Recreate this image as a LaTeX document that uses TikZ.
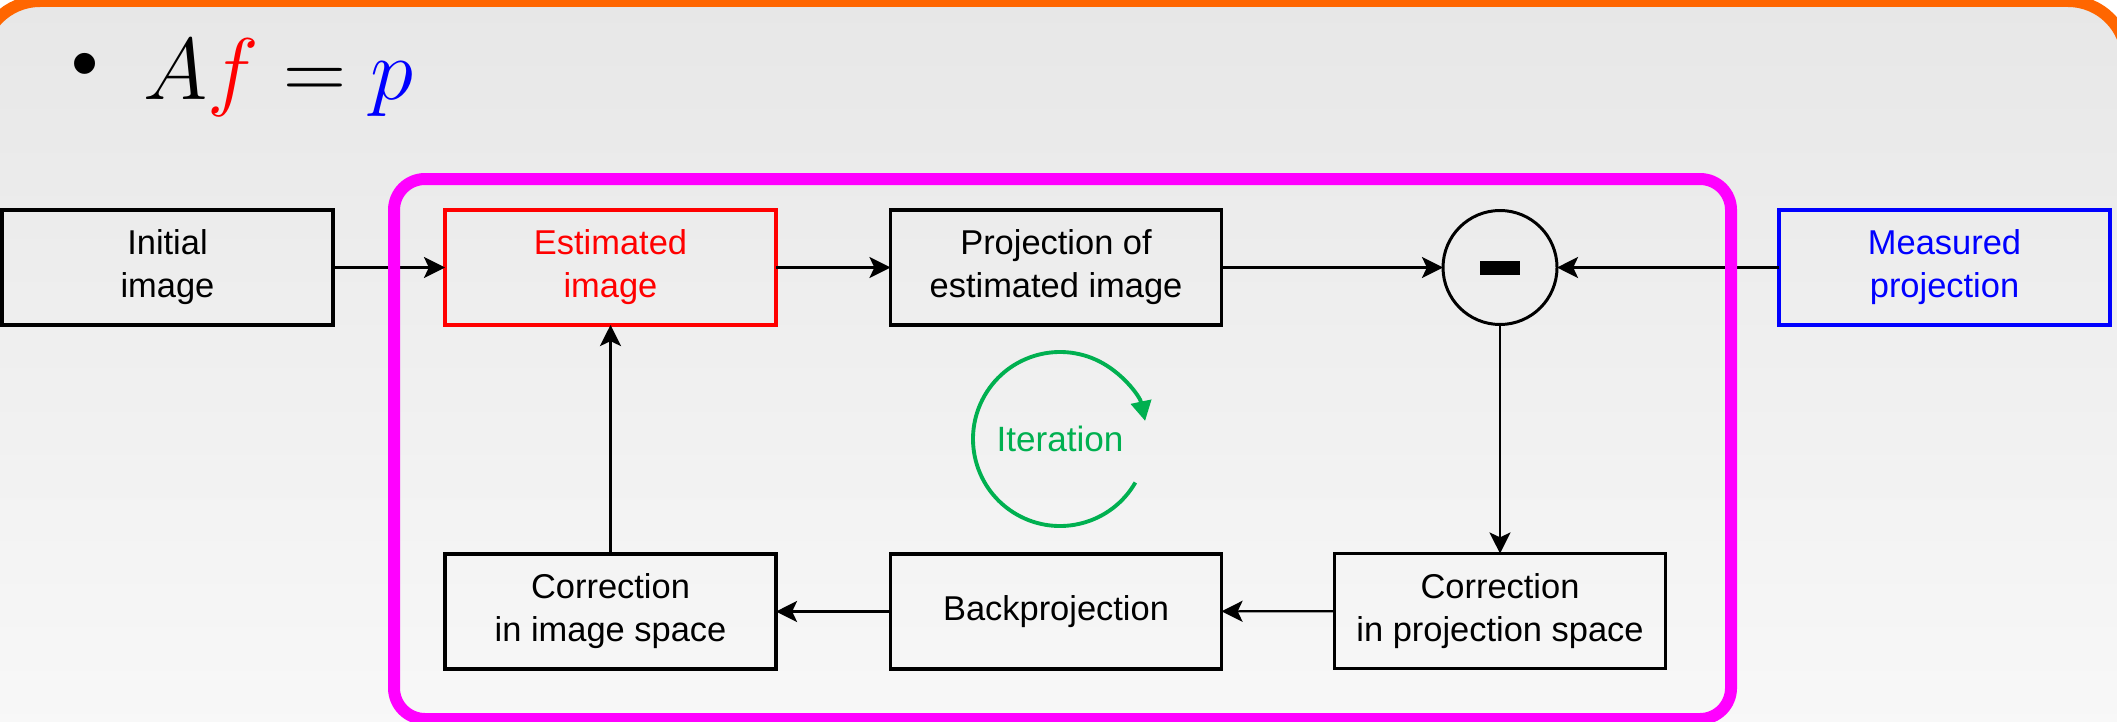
\documentclass[tikz,border=0pt]{standalone}
\usepackage[no-math]{fontspec}
\setmainfont{Liberation Sans}
\usetikzlibrary{positioning,arrows.meta}
\definecolor{framemag}{RGB}{255,0,255}
\definecolor{frameorange}{RGB}{255,102,0}
\definecolor{itergreen}{RGB}{0,176,80}
\definecolor{bgtop}{RGB}{231,231,231}
\definecolor{bgbottom}{RGB}{250,250,250}
\begin{document}
\begin{tikzpicture}[node distance=1.12cm,
  block/.style={draw,line width=0.95pt,minimum width=3.31cm,minimum height=1.15cm,inner sep=0pt,outer sep=0pt,align=center,font=\fontsize{9.8}{12.2}\selectfont},
  flow/.style={-{Stealth[length=6pt,width=6pt,inset=1.4pt]},line width=0.6pt}]
\useasboundingbox (0,0) rectangle (21.17,7.21);
\clip (0,0) rectangle (21.17,7.21);
\fill[white] (0,0) rectangle (21.17,7.21);
\shade[top color=bgtop,bottom color=bgbottom,rounded corners=0.59cm] (-0.19,-1) rectangle (21.27,7.20);
\draw[frameorange,line width=0.12cm,rounded corners=0.59cm] (-0.19,-1) rectangle (21.27,7.20);
\node(bullet) at (0.85,6.50) {\fontsize{22}{26}\selectfont\textbullet};
\node(equation)[anchor=base west,inner sep=0pt] at (1.43,6.21) {\fontsize{23.5}{28}\selectfont $A\textcolor{red}{f}=\textcolor{blue}{p}$};
\node(initial-img)[block] at (1.675,4.535) {Initial\\image};
\node(estimated-img)[block,red,right=of initial-img] {Estimated\\image};
\node(projection)[block,right=1.145cm of estimated-img] {Projection of\\estimated image};
\node(diff)[circle,draw,line width=0.85pt,minimum size=1.14cm,inner sep=0pt,outer sep=0pt,right=2.215cm of projection,
  path picture={\fill (-0.2,-0.07) rectangle (0.2,0.07);}] {};
\node(measured)[block,blue,right=2.22cm of diff] {Measured\\projection};
\node(corr-image)[block,below=2.29cm of estimated-img] {Correction\\in image space};
\node(backproj)[block,below=2.29cm of projection] {Backprojection};
\node(corr-proj)[block,below=2.29cm of diff] {Correction\\in projection space};
\node(iteration)[text=itergreen,font=\fontsize{10}{12.2}\selectfont] at (10.60,2.82) {Iteration};
\draw[itergreen,line width=1.1pt,-{Triangle[length=5.6pt,width=5.8pt]}]
  ([shift={(-30:0.87)}]iteration.center) arc[start angle=-30,end angle=-348,radius=0.87];
\draw[flow] (initial-img) -- (estimated-img);
\draw[flow] (estimated-img) -- (projection);
\draw[flow] (projection) -- (diff);
\draw[flow] (measured) -- (diff);
\draw[flow] (diff) -- (corr-proj);
\draw[flow] (corr-proj) -- (backproj);
\draw[flow] (backproj) -- (corr-image);
\draw[flow] (corr-image) -- (estimated-img);
\draw[framemag,line width=0.12cm,rounded corners=0.31cm] (3.94,0.02) rectangle (17.31,5.42);
\end{tikzpicture}
\end{document}
